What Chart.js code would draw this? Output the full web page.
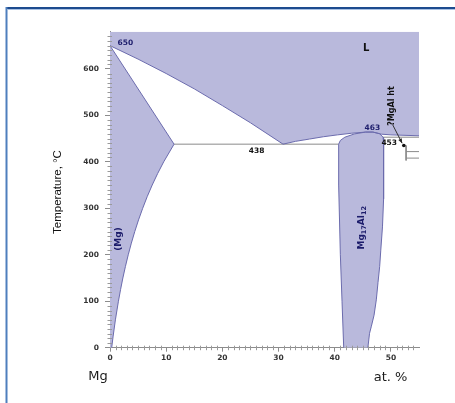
<!DOCTYPE html>
<html>
<head>
<meta charset="utf-8">
<script src="https://cdn.jsdelivr.net/npm/chart.js@4.4.0/dist/chart.umd.min.js"></script>
<style>
  body { margin: 0; background: #fff; }
  canvas { display: block; }
</style>
</head>
<body>
<canvas id="phase" width="455" height="403"></canvas>
<script>
// Mg-Al side of the phase diagram: x = at.% Al, y = temperature in C
const liquidusMg = [[0, 650], [5, 621], [10, 590], [15, 557], [20, 521], [25, 484], [30.8, 438]];
const liquidusGamma = [[30.8, 438], [33, 444], [35.5, 449], [38, 454], [40.5, 458], [43, 461.5],
  [45.5, 464], [46.8, 464], [48.3, 459.5], [50, 458], [55, 456]];
const solidusMg = [[0, 650], [11.4, 438]];
const solvusMg = [[11.4, 438], [9.56, 400], [8.49, 375], [7.51, 350], [6.62, 325], [5.82, 300],
  [5.08, 275], [4.41, 250], [3.8, 225], [3.25, 200], [2.75, 175], [2.29, 150], [1.88, 125],
  [1.5, 100], [0.96, 60], [0.56, 25], [0.3, 0]];
const gammaLeft = [[41.6, 0], [41.3, 100], [41, 200], [40.7, 350], [40.7, 438]];
const gammaTop = [[40.7, 438], [41, 446], [41.8, 453], [43.5, 460], [45.5, 464], [46.8, 464],
  [48, 460.5], [48.6, 453], [48.7, 440]];
const gammaRight = [[48.7, 440], [48.7, 320], [48.5, 260], [48.2, 210], [48, 175], [47.7, 140],
  [47.4, 103], [47, 70], [46.5, 45], [46.2, 31], [45.9, 0]];
const eutectic = [[11.4, 438], [40.7, 438]];
const line453 = [[48.6, 453], [55, 453]];
const htDrop = [[52.7, 435], [52.7, 403]];
const htUpper = [[52.7, 422], [55, 422]];
const htLower = [[52.7, 408], [55, 408]];
const dot453 = [[52.3, 435]];

const xTicks = [0, 10, 20, 30, 40, 50];
const yTicks = [0, 100, 200, 300, 400, 500, 600];

const FILL = '#b9b9dc';
const EDGE = '#6b6bad';
const GREY = '#8a8a8a';
const NAVY = '#1c1c6b';

const pts = a => a.map(p => ({ x: p[0], y: p[1] }));

function area(points) {
  return { data: pts(points), showLine: true, fill: 'shape', backgroundColor: FILL,
    borderWidth: 0, pointRadius: 0, order: 3 };
}
function edge(points, color) {
  return { data: pts(points), showLine: true, fill: false, borderColor: color,
    borderWidth: 1, pointRadius: 0, order: 1 };
}

const liquidRegion = [[0, 680]].concat(liquidusMg, liquidusGamma.slice(1), [[55, 680]]);
const mgRegion = solidusMg.concat(solvusMg.slice(1), [[0, 0]]);
const gammaRegion = gammaLeft.concat(gammaTop.slice(1), gammaRight.slice(1));

const extras = {
  id: 'extras',
  beforeDraw(chart) {
    const c = chart.ctx;
    c.save();
    c.fillStyle = '#fff';
    c.fillRect(0, 0, chart.width, chart.height);
    // blue frame, top and left
    c.fillStyle = '#a9c1e3';
    c.fillRect(8, 9, chart.width - 8, 1);
    c.fillStyle = '#1d4b8f';
    c.fillRect(6, 7, chart.width - 6, 2);
    c.fillStyle = '#4f7fbd';
    c.fillRect(5.5, 7, 2, chart.height - 7);
    c.restore();
  },
  afterDraw(chart) {
    const c = chart.ctx;
    const xs = chart.scales.x, ys = chart.scales.y;
    const X = v => xs.getPixelForValue(v), Y = v => ys.getPixelForValue(v);
    const area = chart.chartArea;
    c.save();

    // minor ticks
    c.strokeStyle = '#9a9a9a';
    c.lineWidth = 1;
    c.beginPath();
    for (let v = 1; v < 55; v++) {
      if (v % 10 === 0) continue;
      const px = Math.round(X(v)) + 0.5;
      c.moveTo(px, area.bottom - 2);
      c.lineTo(px, area.bottom + 2.5);
    }
    for (let v = 10; v < 680; v += 10) {
      if (v % 100 === 0) continue;
      const py = Math.round(Y(v)) + 0.5;
      c.moveTo(area.left - 2.5, py);
      c.lineTo(area.left + 2, py);
    }
    c.stroke();

    // arrow from the ?MgAl ht label down to the 453 point
    const x0 = X(50.3), y0 = Y(480), x1 = X(52.0), y1 = Y(440);
    c.strokeStyle = '#333';
    c.beginPath();
    c.moveTo(x0, y0);
    c.lineTo(x1, y1);
    c.stroke();
    const ang = Math.atan2(y1 - y0, x1 - x0);
    c.fillStyle = '#222';
    c.beginPath();
    c.moveTo(x1, y1);
    c.lineTo(x1 - 5 * Math.cos(ang - 0.4), y1 - 5 * Math.sin(ang - 0.4));
    c.lineTo(x1 - 5 * Math.cos(ang + 0.4), y1 - 5 * Math.sin(ang + 0.4));
    c.closePath();
    c.fill();

    c.textAlign = 'center';
    c.textBaseline = 'middle';
    const put = (t, x, y, font, color) => {
      c.font = font;
      c.fillStyle = color;
      c.fillText(t, x, y);
    };
    const small = 'bold 7.5px "DejaVu Sans"';
    put('650', X(2.75), Y(655), small, NAVY);
    put('L', X(45.6), Y(643), 'bold 10px "DejaVu Sans"', '#111');
    put('438', X(26.1), Y(423), small, '#111');
    put('463', X(46.7), Y(473), small, NAVY);
    put('453', X(49.7), Y(441), small, '#111');

    const rotated = (x, y, fn) => {
      c.save();
      c.translate(x, y);
      c.rotate(-Math.PI / 2);
      fn();
      c.restore();
    };
    rotated(X(1.6), Y(234), () => put('(Mg)', 0, 0, 'bold 9px "DejaVu Sans"', NAVY));
    rotated(X(50.1), Y(520), () => put('?MgAl ht', 0, 0, 'bold 8px "DejaVu Sans"', '#111'));
    rotated(X(44.8), Y(258), () => {
      const parts = [['Mg', 9, 0], ['17', 6.5, 2.5], ['Al', 9, 0], ['12', 6.5, 2.5]];
      c.textAlign = 'left';
      c.fillStyle = NAVY;
      let w = 0;
      parts.forEach(p => { c.font = 'bold ' + p[1] + 'px "DejaVu Sans"'; w += c.measureText(p[0]).width; });
      let cx = -w / 2;
      parts.forEach(p => {
        c.font = 'bold ' + p[1] + 'px "DejaVu Sans"';
        c.fillText(p[0], cx, p[2]);
        cx += c.measureText(p[0]).width;
      });
      c.textAlign = 'center';
    });

    // axis titles
    rotated(58, 192, () => put('Temperature, \u00B0C', 0, 0, '11.5px "Liberation Sans"', '#111'));
    put('Mg', 98, 377, '13px "DejaVu Sans"', '#1a1a1a');
    put('at. %', 390.5, 378, '13px "DejaVu Sans"', '#1a1a1a');
    c.restore();
  }
};

new Chart(document.getElementById('phase'), {
  type: 'scatter',
  data: {
    datasets: [
      area(liquidRegion),
      area(mgRegion),
      area(gammaRegion),
      edge(liquidusMg, EDGE),
      edge(liquidusGamma, EDGE),
      edge(solidusMg, EDGE),
      edge(solvusMg, EDGE),
      edge(gammaLeft, EDGE),
      edge(gammaTop, EDGE),
      edge(gammaRight, EDGE),
      edge(eutectic, GREY),
      edge(line453, GREY),
      edge(htDrop, GREY),
      edge(htUpper, GREY),
      edge(htLower, GREY),
      { data: pts(dot453), pointRadius: 1.8, pointBackgroundColor: '#111', borderWidth: 0, order: 0 }
    ]
  },
  options: {
    responsive: false,
    animation: false,
    events: [],
    layout: { padding: { top: 31.7, right: 36, bottom: 0, left: 0 } },
    plugins: { legend: { display: false }, tooltip: { enabled: false } },
    scales: {
      x: {
        type: 'linear', min: 0, max: 55,
        afterFit(s) { s.height = 55.3; },
        afterBuildTicks(s) { s.ticks = xTicks.map(v => ({ value: v })); },
        border: { color: '#8c8c8c' },
        grid: { drawOnChartArea: false, tickLength: 4, color: '#8c8c8c' },
        ticks: { padding: 2, maxRotation: 0, color: '#333', font: { family: 'DejaVu Sans', size: 7.5, weight: 'bold' } }
      },
      y: {
        type: 'linear', min: 0, max: 680,
        afterFit(s) { s.width = 110; },
        afterBuildTicks(s) { s.ticks = yTicks.map(v => ({ value: v })); },
        border: { color: '#8c8c8c' },
        grid: { drawOnChartArea: false, tickLength: 5, color: '#8c8c8c' },
        ticks: { padding: 6, color: '#333', font: { family: 'DejaVu Sans', size: 7.5, weight: 'bold' } }
      }
    }
  },
  plugins: [extras]
});
</script>
</body>
</html>
